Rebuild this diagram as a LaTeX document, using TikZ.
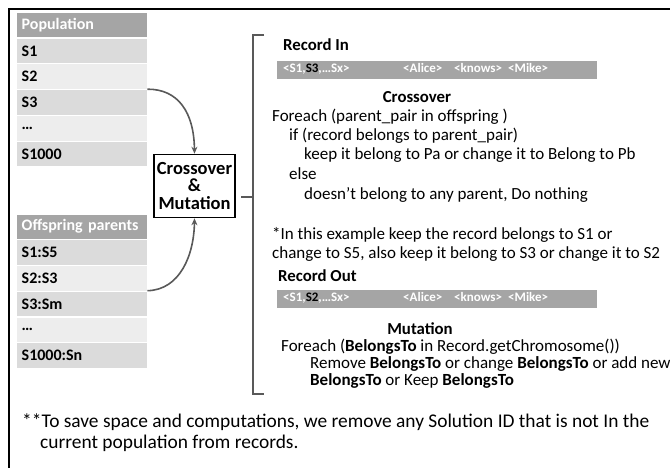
\documentclass[tikz,border=0pt]{standalone}
\usepackage{fontspec}
\setmainfont{Carlito}
\usetikzlibrary{arrows.meta}
\definecolor{hdr}{HTML}{A5A5A5}
\definecolor{rowa}{HTML}{DBDBDB}
\definecolor{rowb}{HTML}{EDEDED}
\definecolor{arrc}{HTML}{595959}
\begin{document}
\begin{tikzpicture}[x=1pt,y=-1pt,
  cell/.style={anchor=north west,minimum height=24.5pt,text width=121pt,inner xsep=4.5pt,inner ysep=0pt,align=left,font=\fontsize{16}{18}\selectfont\bfseries},
  hcell/.style={cell,fill=hdr,text=white,minimum height=24pt},
  ra/.style={cell,fill=rowa},
  rb/.style={cell,fill=rowb},
  bar/.style={anchor=north west,fill=hdr,minimum width=320pt,minimum height=18pt,inner sep=0pt},
  bartxt/.style={anchor=mid west,inner sep=0pt,text=white,font=\fontsize{13}{15}\selectfont\bfseries},
  txt/.style={anchor=mid west,inner sep=0pt,font=\fontsize{17}{19}\selectfont},
  ttl/.style={anchor=mid,inner sep=0pt,font=\fontsize{16.8}{19}\selectfont\bfseries},
  foot/.style={anchor=mid west,inner sep=0pt,font=\fontsize{19.4}{21}\selectfont},
  arr/.style={draw=arrc,line width=1.6pt,-{Stealth[length=7pt,width=6pt]}},
  brk/.style={draw=arrc,line width=2.4pt}]
\useasboundingbox (0,0) rectangle (670,468);
% frame
\draw[line width=2.2pt] (9,470) -- (9,9) -- (672,9);
% population table
\node[hcell] (ph) at (17,13) {Population};
\node[ra] (p1) at (17,38.5) {S1};
\node[rb] (p2) at (17,64.3) {S2};
\node[ra] (p3) at (17,90.1) {S3};
\node[rb] (p4) at (17,115.9) {…};
\node[ra] (p5) at (17,141.7) {S1000};
% offspring table
\node[hcell] (oh) at (17,214.5) {Offspring parents};
\node[ra] (o1) at (17,240) {S1:S5};
\node[rb] (o2) at (17,265.8) {S2:S3};
\node[ra] (o3) at (17,291.6) {S3:Sm};
\node[rb] (o4) at (17,317.4) {…};
\node[ra] (o5) at (17,343.2) {S1000:Sn};
% crossover & mutation box
\node[draw,line width=1.6pt,minimum width=81pt,minimum height=63pt,inner sep=0pt,align=center,
  font=\fontsize{18.5}{17.5}\selectfont\bfseries] (cm) at (194.5,186) {Crossover\\\&\\Mutation};
% arrows
\draw[arr] (p2.south east) .. controls (178,89) and (194,112) .. (cm.north);
\draw[arr] (o2.south east) .. controls (180,290) and (194,255) .. (cm.south);
% bracket
\coordinate (bt) at (264,35);
\coordinate (bb) at (264,394);
\coordinate (bn) at (241,197);
\draw[brk] (bt) -- (253,35) -- (253,394) -- (bb);
\draw[brk] (253,197) -- (bn);
% record in
\node[ttl,anchor=mid west] (rint) at (283,48) {Record In};
\node[bar] (rinb) at (277,61) {};
\node[bartxt] (r1a) at (283,70) {<S1,{\color{black}S3},…Sx>};
\node[bartxt] (r1b) at (403,70) {<Alice>};
\node[bartxt] (r1c) at (454,70) {<knows>};
\node[bartxt] (r1d) at (508,70) {<Mike>};
% crossover
\node[ttl] (cot) at (417,100) {Crossover};
\node[txt] (c1) at (272,119) {Foreach (parent\_pair in offspring )};
\node[txt] (c2) at (289,138) {if (record belongs to parent\_pair)};
\node[txt] (c3) at (304,157) {keep it belong to Pa or change it to Belong to Pb};
\node[txt] (c4) at (289,177) {else};
\node[txt] (c5) at (304,197) {doesn’t belong to any parent, Do nothing};
\node[txt] (n1) at (272,237) {*In this example keep the record belongs to S1 or};
\node[txt] (n2) at (272,256) {change to S5, also keep it belong to S3 or change it to S2};
% record out
\node[ttl,anchor=mid west] (routt) at (278,279) {Record Out};
\node[bar] (routb) at (277,290) {};
\node[bartxt] (r2a) at (283,299) {<S1,{\color{black}S2},…Sx>};
\node[bartxt] (r2b) at (403,299) {<Alice>};
\node[bartxt] (r2c) at (454,299) {<knows>};
\node[bartxt] (r2d) at (508,299) {<Mike>};
% mutation
\node[ttl] (mut) at (420,332) {Mutation};
\node[txt] (m1) at (281,349) {Foreach (\textbf{BelongsTo} in Record.getChromosome())};
\node[txt] (m2) at (310,366) {Remove \textbf{BelongsTo} or change \textbf{BelongsTo} or add new};
\node[txt] (m3) at (310,383) {\textbf{BelongsTo} or Keep \textbf{BelongsTo}};
% footnote
\node[foot] (f1) at (22,425) {**To save space and computations, we remove any Solution ID that is not In the};
\node[foot] (f2) at (40,446) {current population from records.};
\end{tikzpicture}
\end{document}
